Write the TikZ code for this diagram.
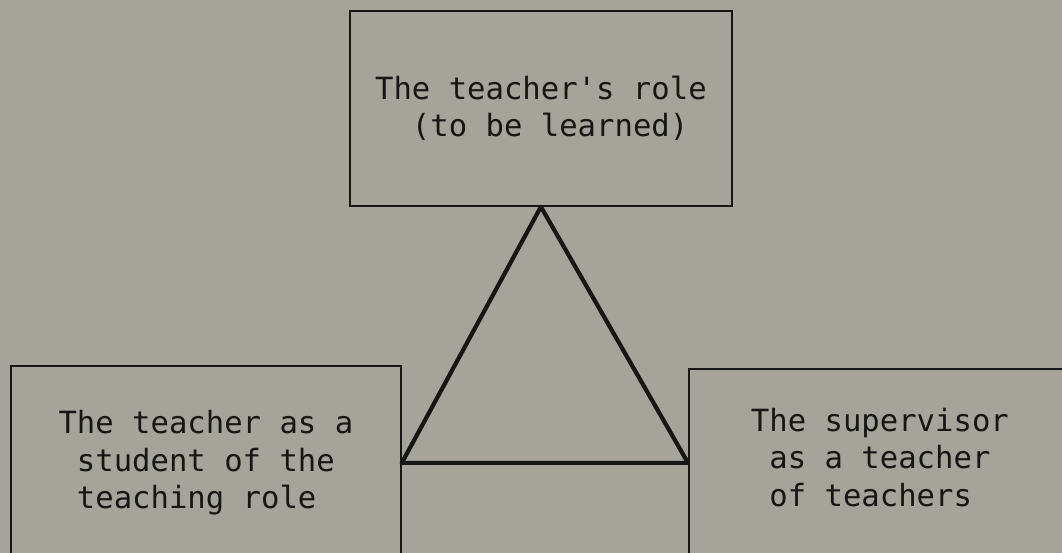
\documentclass[tikz,border=0pt]{standalone}
\usepackage{fontspec}
\setmonofont{DejaVu Sans Mono}
\definecolor{bg}{RGB}{165,163,154}
\definecolor{ink}{RGB}{22,22,20}
\begin{document}
\begin{tikzpicture}[x=1pt,y=1pt,
  box/.style={draw=ink, line width=1.8pt, rectangle, inner sep=0pt, align=left,
    text=ink, font=\fontsize{30.6}{37.5}\selectfont\ttfamily},
  tri/.style={draw=ink, line width=4.2pt, line join=round}]
\clip (0,0) rectangle (1062,553);
\fill[bg] (0,0) rectangle (1062,553);
\node[box, anchor=north west, minimum width=382pt, minimum height=195pt] (top) at (349,543)
  {The teacher's role\\\phantom{xx}(to be learned)};
\node[box, anchor=north west, minimum width=390pt, minimum height=194pt] (left) at (10,188)
  {The teacher as a\\\phantom{x}student of the\\\phantom{x}teaching role};
\node[box, anchor=north west, minimum width=382pt, minimum height=188pt] (right) at (688,185)
  {The supervisor\\\phantom{x}as a teacher\\\phantom{x}of teachers\strut};
\draw[tri] (top.south) -- (left.east) -- (right.west) -- cycle;
\end{tikzpicture}
\end{document}
